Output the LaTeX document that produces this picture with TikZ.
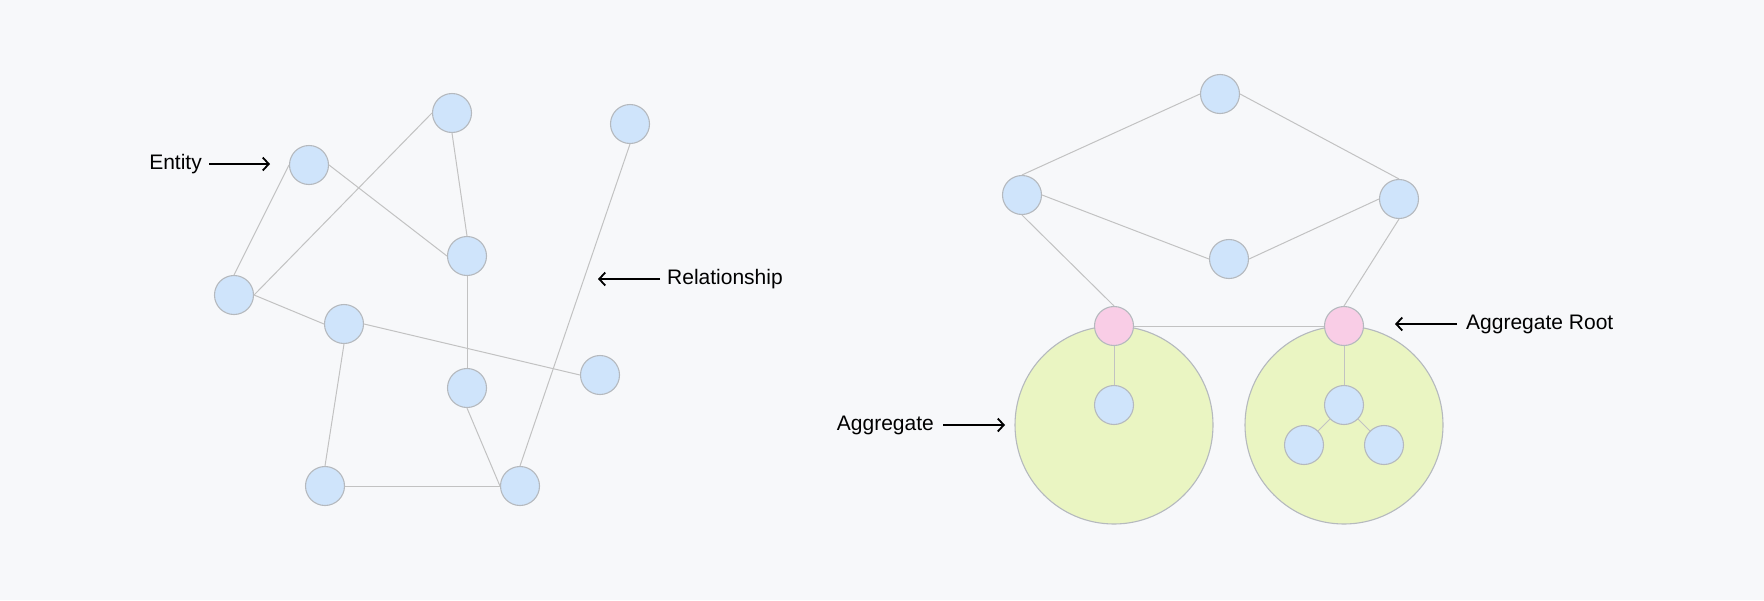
\documentclass[tikz,border=0pt]{standalone}
\usepackage{fontspec}
\setmainfont{Liberation Sans}
\usetikzlibrary{arrows.meta}
\definecolor{bg}{HTML}{F7F8FA}
\definecolor{entfill}{HTML}{CFE4FB}
\definecolor{rootfill}{HTML}{F9CDE6}
\definecolor{aggfill}{HTML}{EAF5C2}
\definecolor{edgegray}{HTML}{C2C2C2}
\definecolor{bordergray}{HTML}{B5B9BE}
\tikzset{
  ent/.style={circle, draw=bordergray, line width=1.1pt, fill=entfill, minimum size=39pt, inner sep=0pt},
  root/.style={ent, fill=rootfill},
  agg/.style={circle, draw=bordergray, line width=1.1pt, fill=aggfill, minimum size=198pt, inner sep=0pt},
  rel/.style={draw=edgegray, line width=1pt},
  lbl/.style={font=\fontsize{21}{25}\selectfont, text=black, inner sep=0pt},
  pointer/.style={-{Straight Barb[length=6pt,width=13pt]}, line width=1.8pt, black},
}
\begin{document}
\begin{tikzpicture}[x=1pt,y=-1pt]
\useasboundingbox[fill=bg] (0,0) rectangle (1764,600);
% left graph
\node[ent] (a) at (309,165) {};
\node[ent] (b) at (452,113) {};
\node[ent] (c) at (630,124) {};
\node[ent] (d) at (467,256) {};
\node[ent] (e) at (234,295) {};
\node[ent] (f) at (344,324) {};
\node[ent] (g) at (600,375) {};
\node[ent] (h) at (467,388) {};
\node[ent] (i) at (325,486) {};
\node[ent] (j) at (520,486) {};
\draw[rel] (a.west) -- (e.north);
\draw[rel] (a.east) -- (d.west);
\draw[rel] (e.east) -- (b.west);
\draw[rel] (b.south) -- (d.north);
\draw[rel] (e.east) -- (f.west);
\draw[rel] (f.east) -- (g.west);
\draw[rel] (d.south) -- (h.north);
\draw[rel] (f.south) -- (i.north);
\draw[rel] (i.east) -- (j.west);
\draw[rel] (h.south) -- (j.west);
\draw[rel] (j.north) -- (c.south);
\node[lbl, anchor=east] (entlbl) at (202,164) {Entity};
\coordinate (entarr) at (270,164);
\draw[pointer] (entlbl.east) ++(7,0) -- (entarr);
\node[lbl, anchor=west] (rellbl) at (667,279) {Relationship};
\coordinate (relarr) at (598,279);
\draw[pointer] (rellbl.west) ++(-7,0) -- (relarr);
% right graph
\node[agg] (agg1) at (1114,425) {};
\node[agg] (agg2) at (1344,425) {};
\node[ent] (t) at (1220,94) {};
\node[ent] (l) at (1022,195) {};
\node[ent] (r) at (1399,199) {};
\node[ent] (m) at (1229,259) {};
\node[root] (p1) at (1114,326) {};
\node[root] (p2) at (1344,326) {};
\node[ent] (q1) at (1114,405) {};
\node[ent] (q2) at (1344,405) {};
\node[ent] (s1) at (1304,445) {};
\node[ent] (s2) at (1384,445) {};
\draw[rel] (t.west) -- (l.north);
\draw[rel] (t.east) -- (r.north);
\draw[rel] (l.east) -- (m.west);
\draw[rel] (m.east) -- (r.west);
\draw[rel] (l.south) -- (p1.north);
\draw[rel] (r.south) -- (p2.north);
\draw[rel] (p1.east) -- (p2.west);
\draw[rel] (p1.south) -- (q1.north);
\draw[rel] (p2.south) -- (q2.north);
\draw[rel] (q2) -- (s1);
\draw[rel] (q2) -- (s2);
\node[lbl, anchor=east] (agglbl) at (934,425) {Aggregate};
\coordinate (aggarr) at (1005,425);
\draw[pointer] (agglbl.east) ++(9,0) -- (aggarr);
\node[lbl, anchor=west] (rootlbl) at (1466,324) {Aggregate Root};
\coordinate (rootarr) at (1395,324);
\draw[pointer] (rootlbl.west) ++(-9,0) -- (rootarr);
\end{tikzpicture}
\end{document}
